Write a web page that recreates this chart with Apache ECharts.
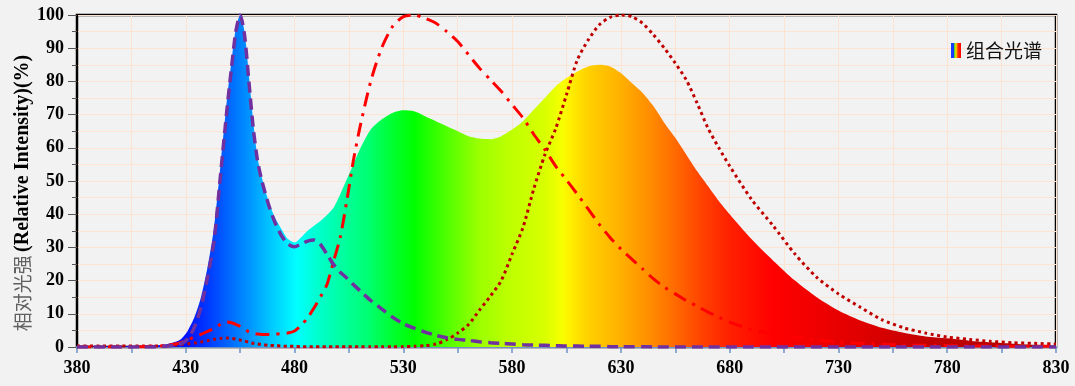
<!DOCTYPE html>
<html>
<head>
<meta charset="utf-8">
<script src="https://cdn.jsdelivr.net/npm/echarts@6/dist/echarts.min.js"></script>
<style>
html,body{margin:0;padding:0;background:#f2f2f2;}
#chart{width:1075px;height:386px;}
</style>
</head>
<body>
<div id="chart"></div>
<script>
// wavelengths (nm)
const wavelengths = [380,390,400,410,415,420,425,428,431,434,437,440,443,446,449,451,453,455,457,459,461,463,465,468,471,474,477,480,483,486,489,492,495,498,501,504,507,510,515,520,525,530,535,540,545,550,555,560,565,570,575,580,585,590,595,600,605,610,615,620,625,630,635,640,645,650,655,660,665,670,675,680,690,700,710,720,730,740,750,760,770,780,790,800,810,820,830];
// combined spectrum (filled)
const combined = [0.3,0.3,0.3,0.4,0.5,0.7,1.5,2.5,5,9,15,24,36,55,75,86,96,100,95,82,68,57,51,44,39,35.5,32.5,31.5,33,35,36.5,38,39.8,42,46,50.5,55,59.5,65.5,68.5,70.5,71.3,71,69.5,68,66.5,65,63.5,62.8,62.6,63.5,65.5,68,71.5,75,78.5,81,83,84.5,85,84.5,82.5,79.5,76.5,72.5,67.5,63,58,53,48.5,44,40,32.5,26,20,15,11,8,5.8,4.3,3.2,2.6,1.9,1.4,1,0.7,0.5];
// blue chip (purple dashed)
const blueChip = [0,0,0,0,0,0.2,0.5,1,2.5,6,12,21,32,52,72,84,95,100,94,80,66,56,50,43,37.5,33.5,31,30.2,31,31.9,32.2,30.8,27.8,24.8,22.5,20.8,18.8,17,14,11.5,9,7,5.7,4.5,3.5,2.8,2.3,2,1.6,1.3,1.1,0.9,0.7,0.6,0.5,0.4,0.3,0.3,0.2,0.2,0.1,0.1,0.1,0.1,0,0,0,0,0,0,0,0,0,0,0,0,0,0,0,0,0,0,0,0,0,0,0];
// green phosphor (red dash-dot)
const greenPhosphor = [0,0,0,0.1,0.2,0.4,0.9,1.4,2.2,3,3.8,4.7,5.6,6.8,7.5,7.3,6.8,6.2,5.5,4.5,4.1,3.9,3.8,3.8,3.9,4,4.2,4.8,6.5,8.8,11.8,15.2,19,26,33,44,56,66,80,90,96.5,99.5,100,99,97.5,95,92,88,84,80.5,77,73,69,64,59.5,54.5,50.3,46,41.5,37,33,29.5,26.5,23.5,20.5,18,16,14,12.3,10.5,9,7.5,5.3,3.9,2.9,2.1,1.5,1.1,0.8,0.6,0.5,0.4,0.3,0.3,0.2,0.2,0.2];
// red phosphor (dark red dotted)
const redPhosphor = [0.3,0.3,0.3,0.3,0.3,0.4,0.6,0.8,1,1.2,1.5,1.9,2.3,2.6,2.7,2.6,2.4,2.1,1.8,1.4,1.1,0.9,0.7,0.5,0.4,0.3,0.2,0.2,0.1,0.1,0.1,0.1,0.1,0.1,0.1,0.1,0.1,0.1,0.1,0.1,0.1,0.1,0.2,0.4,0.9,2.2,4.2,6.8,11.1,15.3,20,28,36,47.7,57.8,65.7,76,86.5,92.5,97,99.3,100,99.5,97.5,94,90,85.5,80.5,73.5,66,60,54.5,44.5,36.5,28,21,16,12,8.2,5.8,4.2,3,2.3,1.7,1.3,1.1,0.9];
// axis ticks
const xMin = 380, xMax = 830, xTickStep = 25, xLabelStep = 50;
const yMin = 0, yMax = 100, yTickStep = 10;

const seriesName = '组合光谱';

function pairs(vals){ return wavelengths.map((w,i)=>[w, vals[i]]); }

const spectrumStops = [
  [380,'#3a00a0'],[415,'#2000ff'],[430,'#0010ff'],[440,'#0038ff'],[450,'#0068ff'],[460,'#0098ff'],
  [470,'#00ccff'],[481,'#00ffff'],[490,'#00ffd0'],[500,'#00ffa8'],[514,'#00ff70'],[525,'#00ff30'],
  [535,'#00ff00'],[550,'#50ff00'],[565,'#9cff00'],[580,'#c0ff00'],[595,'#d8ff00'],[603,'#f8ff00'],
  [607,'#ffee00'],[615,'#ffd000'],[630,'#ffb000'],[645,'#ff8800'],[655,'#ff6a00'],[668,'#ff4000'],
  [680,'#ff2000'],[700,'#ff0000'],[740,'#e00000'],[770,'#c40000'],[830,'#aa0000']
];
const areaGradient = new echarts.graphic.LinearGradient(0,0,1,0,
  spectrumStops.map(s=>({offset:(s[0]-xMin)/(xMax-xMin), color:s[1]})));
const legendGradient = new echarts.graphic.LinearGradient(0,0,1,0,[
  {offset:0,color:'#1a3cff'},{offset:0.3,color:'#1a3cff'},{offset:0.3,color:'#20d040'},
  {offset:0.5,color:'#ffe000'},{offset:0.7,color:'#ff3000'},{offset:1,color:'#ff0000'}]);

const chart = echarts.init(document.getElementById('chart'), null, {renderer:'canvas'});
const serif = '"Liberation Serif","Times New Roman",serif';
chart.setOption({
  backgroundColor:'#f2f2f2',
  animation:false,
  grid:{left:77,right:19,top:15,bottom:39,show:true,borderColor:'#000',borderWidth:2.5,backgroundColor:'transparent'},
  legend:{
    right:28, top:36, itemWidth:10, itemHeight:15, itemGap:7,
    textStyle:{fontFamily:'"Noto Sans CJK SC"', fontSize:19, color:'#111'},
    data:[{name:seriesName, icon:'rect', itemStyle:{color:legendGradient}}]
  },
  xAxis:{
    type:'value', min:xMin, max:xMax, interval:xTickStep,
    axisLine:{show:true, onZero:false, lineStyle:{color:'#6f93c6', width:2}},
    axisTick:{show:true, length:6, lineStyle:{color:'#6f93c6', width:1.5}},
    axisLabel:{margin:12, fontFamily:serif, fontWeight:'bold', fontSize:18, color:'#000',
      formatter:v=> ((v-xMin)%xLabelStep===0 ? String(v) : '')},
    splitLine:{show:true, lineStyle:{color:'#fde4d2', width:1}}
  },
  yAxis:{
    type:'value', min:yMin, max:yMax, interval:yTickStep,
    name:'{cn|相对光强} {en|(Relative Intensity)(%)}',
    nameLocation:'middle', nameRotate:90, nameGap:44, nameMoveOverlap:false,
    nameTextStyle:{padding:[0,24,0,0], rich:{
      cn:{fontFamily:'"Noto Sans CJK SC"', fontSize:19, color:'#606060'},
      en:{fontFamily:serif, fontWeight:'bold', fontSize:20, color:'#000'}
    }},
    axisLine:{show:true, lineStyle:{color:'#000', width:2}},
    axisTick:{show:true, length:9, lineStyle:{color:'#555', width:1}},
    minorTick:{show:true, splitNumber:2, length:5, lineStyle:{color:'#555', width:1}},
    axisLabel:{margin:13, fontFamily:serif, fontWeight:'bold', fontSize:18, color:'#000'},
    splitLine:{show:true, lineStyle:{color:'#fde4d2', width:1}},
    minorSplitLine:{show:true, lineStyle:{color:'#fde4d2', width:1}}
  },
  series:[
    {name:seriesName, type:'line', data:pairs(combined), showSymbol:false, symbol:'none',
     smooth:0.25,
     itemStyle:{color:areaGradient}, lineStyle:{width:0}, areaStyle:{color:areaGradient, opacity:1}, z:1},
    {name:'red', type:'line', data:pairs(redPhosphor), showSymbol:false, symbol:'none',
     smooth:0.25,
     lineStyle:{color:'#c00000', width:3, type:[3,3.5]}, z:3},
    {name:'green', type:'line', data:pairs(greenPhosphor), showSymbol:false, symbol:'none',
     smooth:0.25,
     lineStyle:{color:'#ff0000', width:3, type:[14,7,3,7]}, z:4},
    {name:'blue', type:'line', data:pairs(blueChip), showSymbol:false, symbol:'none',
     smooth:0.25,
     lineStyle:{color:'#7030a0', width:3.5, type:[11,6]}, z:5}
  ]
});
</script>
</body>
</html>
